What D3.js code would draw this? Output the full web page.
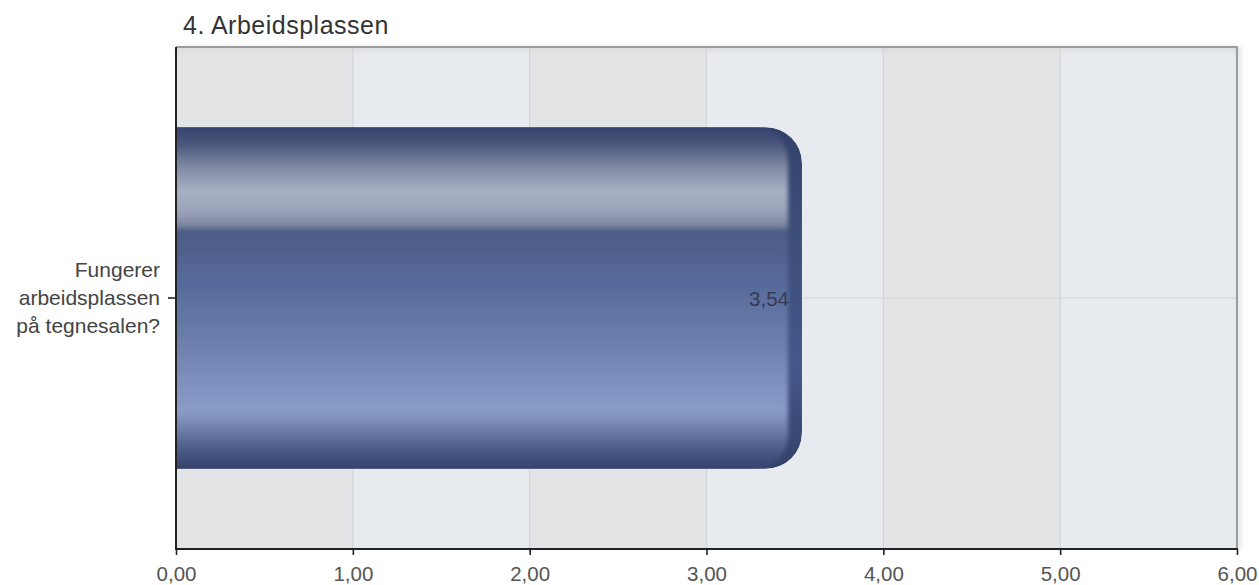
<!DOCTYPE html>
<html>
<head>
<meta charset="utf-8">
<script src="https://cdn.jsdelivr.net/npm/d3@7"></script>
<style>
  html, body { margin: 0; padding: 0; background: #ffffff; }
  svg { display: block; font-family: "Liberation Sans", Arial, Helvetica, sans-serif; }
</style>
</head>
<body>
<svg id="chart" width="1259" height="585"></svg>
<script>
// ---- data ----
const title = "4. Arbeidsplassen";
const categories = ["Fungerer arbeidsplassen på tegnesalen?"];
const categoryLines = [["Fungerer", "arbeidsplassen", "på tegnesalen?"]];
const values = [3.54];
const xTicks = [0, 1, 2, 3, 4, 5, 6];

// ---- layout ----
const W = 1259, H = 585;
const m = { left: 176, right: 22, top: 47, bottom: 36 };
const x0 = m.left, x1 = W - m.right, y0 = m.top, y1 = H - m.bottom;

const svg = d3.select("#chart");
const defs = svg.append("defs");

const x = d3.scaleLinear().domain([xTicks[0], xTicks[xTicks.length - 1]]).range([x0, x1]);
const y = d3.scaleBand().domain(categories).range([y0, y1]).padding(0.19);
const fmt = d => d.toFixed(2).replace(".", ",");

// shadow filter for plot frame
const sh = defs.append("filter").attr("id", "frameShadow").attr("x", "-5%").attr("y", "-5%").attr("width", "110%").attr("height", "110%");
sh.append("feGaussianBlur").attr("stdDeviation", 2);

// bar gradient (vertical)
const g1 = defs.append("linearGradient").attr("id", "barGrad").attr("x1", 0).attr("y1", 0).attr("x2", 0).attr("y2", 1);
[
  [0, "#34426a"], [0.05, "#46547a"], [0.12, "#7f89a3"], [0.19, "#a9b0c4"],
  [0.25, "#9ba3b9"], [0.29, "#7d88a2"], [0.305, "#4c5c86"], [0.45, "#56699a"],
  [0.62, "#6b7eab"], [0.78, "#8396c3"], [0.83, "#899cc7"], [0.88, "#6d7faa"],
  [0.94, "#4a5a86"], [1, "#34416a"]
].forEach(([o, c]) => g1.append("stop").attr("offset", o).attr("stop-color", c));

// rim gradient (vertical, darker)
const g2 = defs.append("linearGradient").attr("id", "rimGrad").attr("x1", 0).attr("y1", 0).attr("x2", 0).attr("y2", 1);
[[0, "#33416a"], [0.3, "#3d4e78"], [0.7, "#45578a"], [1, "#33416a"]]
  .forEach(([o, c]) => g2.append("stop").attr("offset", o).attr("stop-color", c));

const blur = defs.append("filter").attr("id", "soft").attr("x", "-5%").attr("y", "-5%").attr("width", "110%").attr("height", "110%");
blur.append("feGaussianBlur").attr("stdDeviation", 2.2);

// ---- plot background bands ----
const bands = svg.append("g");
xTicks.slice(0, -1).forEach((t, i) => {
  bands.append("rect")
    .attr("x", x(t)).attr("y", y0)
    .attr("width", x(xTicks[i + 1]) - x(t)).attr("height", y1 - y0)
    .attr("fill", i % 2 === 0 ? "#e3e4e6" : "#e7eaee");
});

// frame shadow
svg.append("path")
  .attr("d", `M${x0},${y0 + 2}H${x1 + 2}V${y1}`)
  .attr("fill", "none").attr("stroke", "#d8d8d8").attr("stroke-width", 3)
  .attr("filter", "url(#frameShadow)");

// vertical grid lines
svg.append("g").selectAll("line").data(xTicks.slice(1, -1)).join("line")
  .attr("x1", d => x(d)).attr("x2", d => x(d))
  .attr("y1", y0).attr("y2", y1)
  .attr("stroke", "#d2d3d7").attr("stroke-width", 1.2);

// category grid line
svg.append("g").selectAll("line").data(categories).join("line")
  .attr("x1", x0).attr("x2", x1)
  .attr("y1", d => y(d) + y.bandwidth() / 2).attr("y2", d => y(d) + y.bandwidth() / 2)
  .attr("stroke", "#d2d3d7").attr("stroke-width", 1.2);

// frame top and right
svg.append("path")
  .attr("d", `M${x0},${y0}H${x1}V${y1}`)
  .attr("fill", "none").attr("stroke", "#9c9c9c").attr("stroke-width", 2);

// ---- bars ----
function roundRight(xa, xb, ya, yb, r) {
  r = Math.min(r, (yb - ya) / 2, xb - xa);
  return `M${xa},${ya}H${xb - r}A${r},${r} 0 0 1 ${xb},${ya + r}V${yb - r}A${r},${r} 0 0 1 ${xb - r},${yb}H${xa}Z`;
}

const barG = svg.append("g");
categories.forEach((c, i) => {
  const xs = x(0), xe = x(values[i]);
  const ya = y(c), yb = y(c) + y.bandwidth();
  const clipId = "clip" + i;
  defs.append("clipPath").attr("id", clipId).append("path").attr("d", roundRight(xs, xe, ya, yb, 36));
  const g = barG.append("g").attr("clip-path", `url(#${clipId})`);
  g.append("path").attr("d", roundRight(xs, xe, ya, yb, 36)).attr("fill", "url(#rimGrad)");
  g.append("path").attr("d", roundRight(xs - 10, xe - 14, ya - 2, yb + 2, 36))
    .attr("fill", "url(#barGrad)").attr("filter", "url(#soft)");
});

// value labels
barG.selectAll("text.val").data(values).join("text")
  .attr("class", "val")
  .attr("x", d => x(d) - 13)
  .attr("y", (d, i) => y(categories[i]) + y.bandwidth() / 2 + 7.5)
  .attr("text-anchor", "end")
  .attr("font-size", 20.5)
  .attr("fill", "#333b52")
  .text(d => fmt(d));

// ---- axes ----
const xAxis = svg.append("g").attr("transform", `translate(0,${y1})`)
  .call(d3.axisBottom(x).tickValues(xTicks).tickFormat(fmt).tickSize(6).tickPadding(11));
xAxis.select(".domain").attr("stroke", "#222").attr("stroke-width", 2).attr("d", `M${x0},0H${x1 + 1}`);
xAxis.selectAll(".tick line").attr("stroke", "#222").attr("stroke-width", 1.6);
xAxis.selectAll(".tick text").attr("font-size", 20.5).attr("fill", "#555")
  .attr("font-family", "'Liberation Sans', Arial, sans-serif");

// left axis line
svg.append("line").attr("x1", x0).attr("x2", x0).attr("y1", y0).attr("y2", y1 + 1)
  .attr("stroke", "#222").attr("stroke-width", 2);

// category ticks and labels
const yl = svg.append("g");
categories.forEach((c, i) => {
  const cy = y(c) + y.bandwidth() / 2;
  yl.append("line").attr("x1", x0 - 8).attr("x2", x0).attr("y1", cy).attr("y2", cy)
    .attr("stroke", "#222").attr("stroke-width", 1.6);
  const lines = categoryLines[i];
  const lh = 28;
  const t = yl.append("text").attr("text-anchor", "end").attr("font-size", 21).attr("fill", "#444");
  lines.forEach((ln, k) => {
    t.append("tspan").attr("x", x0 - 16)
      .attr("y", cy + 7 + (k - (lines.length - 1) / 2) * lh)
      .text(ln);
  });
});

// title
svg.append("text").attr("x", 183).attr("y", 34)
  .attr("font-size", 25).attr("letter-spacing", 0.5).attr("fill", "#333")
  .text(title);
</script>
</body>
</html>
